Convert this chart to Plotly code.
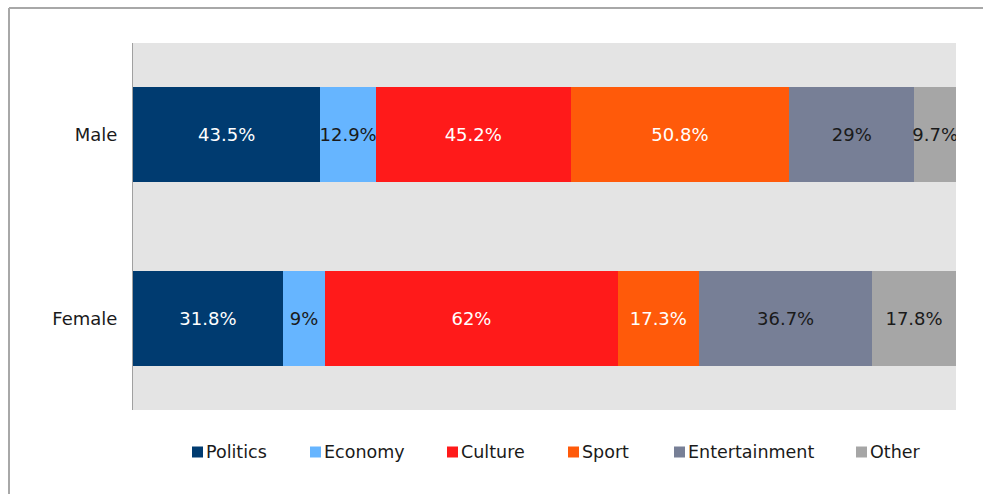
import plotly.graph_objects as go

# Share of mentions by topic, per gender
groups = ["Male", "Female"]
topics = ["Politics", "Economy", "Culture", "Sport", "Entertainment", "Other"]
male_values = [43.5, 12.9, 45.2, 50.8, 29, 9.7]
female_values = [31.8, 9, 62, 17.3, 36.7, 17.8]

colors = ["#003b70", "#66b5ff", "#ff1a1a", "#ff5a0a", "#777f96", "#a6a6a6"]
label_colors = ["white", "#1a1a1a", "white", "white", "#1a1a1a", "#1a1a1a"]

FONT = "DejaVu Sans, Verdana, sans-serif"
SIZE = 18

# plot-area geometry in pixels, used to place the custom legend and frame
L, R, T, B = 133, 27, 43, 84
W, H = 983, 494
PW, PH = W - L - R, H - T - B


def px_x(x):
    return (x - L) / PW


def px_y(y):
    return (H - B - y) / PH


fig = go.Figure()
for i, topic in enumerate(topics):
    vals = [male_values[i], female_values[i]]
    fig.add_trace(go.Bar(
        name=topic,
        y=groups,
        x=vals,
        orientation="h",
        marker=dict(color=colors[i], line=dict(width=0)),
        text=[f"{v:g}%" for v in vals],
        textposition="inside",
        insidetextanchor="middle",
        textangle=0,
        textfont=dict(color=label_colors[i], size=SIZE, family=FONT),
        hoverinfo="skip",
        showlegend=False,
    ))

# Legend row: coloured square followed by the topic name
legend_x = [192, 310, 447, 568, 674, 856]
legend_y = 452
annotations = []
shapes = []
for i, topic in enumerate(topics):
    shapes.append(dict(
        type="rect", xref="paper", yref="paper",
        x0=px_x(legend_x[i]), x1=px_x(legend_x[i] + 11),
        y0=px_y(legend_y + 5.5), y1=px_y(legend_y - 5.5),
        fillcolor=colors[i], line=dict(width=0),
    ))
    annotations.append(dict(
        xref="paper", yref="paper",
        x=px_x(legend_x[i] + 12), y=px_y(legend_y),
        xanchor="left", yanchor="middle",
        text=topic,
        showarrow=False,
        font=dict(size=17.5, family=FONT, color="#1a1a1a"),
    ))

# light frame along the top and left edges
shapes += [
    dict(type="line", xref="paper", yref="paper", x0=px_x(9), x1=px_x(W + 5), y0=px_y(8), y1=px_y(8),
         line=dict(color="#a8a8a8", width=2)),
    dict(type="line", xref="paper", yref="paper", x0=px_x(9), x1=px_x(9), y0=px_y(8), y1=px_y(H + 5),
         line=dict(color="#a8a8a8", width=2)),
]

fig.update_layout(
    barmode="stack",
    barnorm="percent",
    bargap=0.484,
    width=W,
    height=H,
    margin=dict(l=L, r=R, t=T, b=B),
    paper_bgcolor="white",
    plot_bgcolor="#e4e4e4",
    font=dict(family=FONT, size=SIZE, color="#1a1a1a"),
    uniformtext=dict(minsize=SIZE, mode="show"),
    annotations=annotations,
    shapes=shapes,
    xaxis=dict(range=[0, 100], visible=False, fixedrange=True),
    yaxis=dict(
        autorange="reversed",
        showline=True, linecolor="#a0a0a0", linewidth=1,
        showgrid=False, zeroline=False,
        ticks="", ticklabelstandoff=11,
        tickfont=dict(size=SIZE, family=FONT, color="#1a1a1a"),
    ),
)

fig.write_html("out.html")
